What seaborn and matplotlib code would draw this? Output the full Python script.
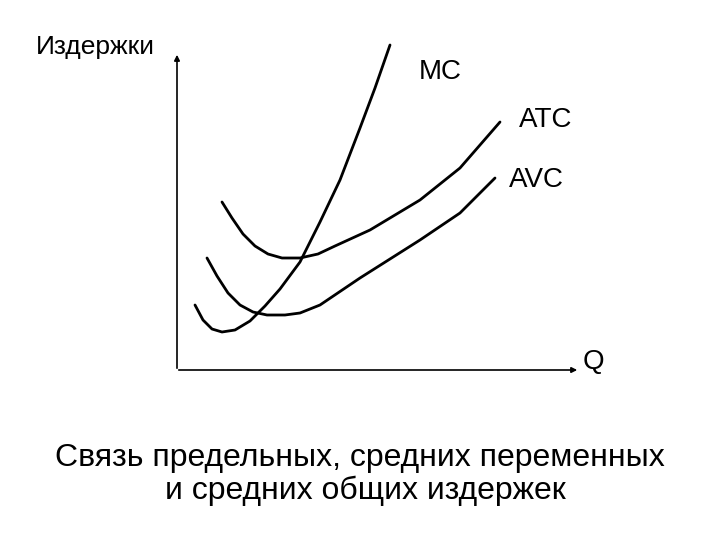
import pandas as pd
import matplotlib
matplotlib.use('Agg')
import matplotlib.pyplot as plt
import seaborn as sns

# curve points (pixel space, y downwards)
mc_x = [195, 203, 212, 222, 235, 250, 265, 280, 300, 320, 340, 360, 375, 390]
mc_y = [305, 320, 329, 332, 330, 321, 306, 289, 262, 222, 180, 128, 88, 45]
atc_x = [222, 232, 243, 255, 268, 282, 300, 318, 335, 370, 420, 460, 500]
atc_y = [202, 218, 234, 246, 254, 258, 258, 254, 246, 230, 200, 168, 122]
avc_x = [207, 217, 228, 240, 253, 267, 285, 300, 320, 360, 420, 460, 495]
avc_y = [258, 276, 293, 305, 312, 315, 315, 313, 305, 278, 240, 213, 178]

df = pd.concat([
    pd.DataFrame({'x': mc_x, 'y': mc_y, 'c': 'MC'}),
    pd.DataFrame({'x': atc_x, 'y': atc_y, 'c': 'ATC'}),
    pd.DataFrame({'x': avc_x, 'y': avc_y, 'c': 'AVC'}),
])

sns.set_style('white')
plt.rcParams['font.family'] = ['Liberation Sans', 'DejaVu Sans']
plt.rcParams['text.color'] = 'black'

fig = plt.figure(figsize=(7.2, 5.4), dpi=100)
ax = fig.add_axes([0, 0, 1, 1])
ax.set_xlim(0, 720)
ax.set_ylim(540, 0)
ax.axis('off')

sns.lineplot(data=df, x='x', y='y', units='c', estimator=None, sort=False,
             color='black', linewidth=2, ax=ax)

# axes with arrows
ax.annotate('', xy=(177, 52), xytext=(177, 371),
            arrowprops=dict(arrowstyle='-|>', color='black', lw=1.2, mutation_scale=8))
ax.annotate('', xy=(580, 370), xytext=(176, 370),
            arrowprops=dict(arrowstyle='-|>', color='black', lw=1.2, mutation_scale=8))

ax.text(36, 47, 'Издержки', fontsize=19, va='center', ha='left')
ax.text(419, 72, 'MC', fontsize=20, va='center', ha='left')
ax.text(519, 120, 'ATC', fontsize=20, va='center', ha='left')
ax.text(509, 180, 'AVC', fontsize=20, va='center', ha='left')
ax.text(583, 362, 'Q', fontsize=20, va='center', ha='left')
ax.text(360, 458, 'Связь предельных, средних переменных', fontsize=23, ha='center', va='center')
ax.text(365, 491, 'и средних общих издержек', fontsize=23, ha='center', va='center')

fig.savefig('out.png', dpi=100)
